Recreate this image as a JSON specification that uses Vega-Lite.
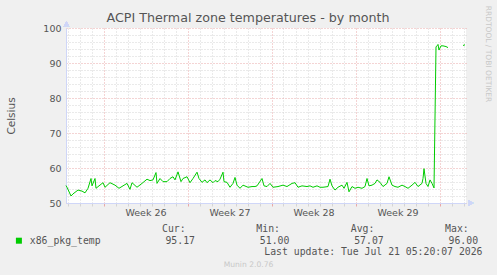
{
  "$schema": "https://vega.github.io/schema/vega-lite/v6.json",
  "width": 400,
  "height": 175,
  "autosize": {"type": "none"},
  "padding": {"left": 66, "top": 28, "right": 31, "bottom": 72},
  "background": "#f0f0f0",
  "config": {"view": {"fill": "#ffffff", "stroke": null}},
  "title": {"text": "ACPI Thermal zone temperatures - by month", "font": "DejaVu Sans", "fontSize": 12.7, "fontWeight": "normal", "color": "#555555", "anchor": "middle", "dx": -18, "offset": -19},
  "data": {"values": [
    {"time": "2026-06-18T21:00:00Z", "temp": 55.0},
    {"time": "2026-06-18T23:00:00Z", "temp": 54.5},
    {"time": "2026-06-19T07:00:00Z", "temp": 52.0},
    {"time": "2026-06-19T11:00:00Z", "temp": 52.6},
    {"time": "2026-06-19T21:00:00Z", "temp": 53.7},
    {"time": "2026-06-20T05:00:00Z", "temp": 53.4},
    {"time": "2026-06-20T11:00:00Z", "temp": 52.9},
    {"time": "2026-06-20T17:00:00Z", "temp": 54.2},
    {"time": "2026-06-20T23:00:00Z", "temp": 57.0},
    {"time": "2026-06-21T01:00:00Z", "temp": 54.9},
    {"time": "2026-06-21T07:00:00Z", "temp": 57.0},
    {"time": "2026-06-21T09:00:00Z", "temp": 54.2},
    {"time": "2026-06-21T15:00:00Z", "temp": 54.9},
    {"time": "2026-06-21T23:00:00Z", "temp": 55.8},
    {"time": "2026-06-22T03:00:00Z", "temp": 54.5},
    {"time": "2026-06-22T13:00:00Z", "temp": 55.8},
    {"time": "2026-06-22T23:00:00Z", "temp": 55.1},
    {"time": "2026-06-23T07:00:00Z", "temp": 54.2},
    {"time": "2026-06-23T15:00:00Z", "temp": 54.9},
    {"time": "2026-06-23T23:00:00Z", "temp": 55.6},
    {"time": "2026-06-24T05:00:00Z", "temp": 53.9},
    {"time": "2026-06-24T09:00:00Z", "temp": 55.8},
    {"time": "2026-06-24T19:00:00Z", "temp": 54.5},
    {"time": "2026-06-25T05:00:00Z", "temp": 55.6},
    {"time": "2026-06-25T15:00:00Z", "temp": 56.8},
    {"time": "2026-06-25T21:00:00Z", "temp": 56.4},
    {"time": "2026-06-26T03:00:00Z", "temp": 56.6},
    {"time": "2026-06-26T09:00:00Z", "temp": 58.7},
    {"time": "2026-06-26T11:00:00Z", "temp": 55.6},
    {"time": "2026-06-26T17:00:00Z", "temp": 57.0},
    {"time": "2026-06-26T23:00:00Z", "temp": 56.1},
    {"time": "2026-06-27T07:00:00Z", "temp": 56.1},
    {"time": "2026-06-27T13:00:00Z", "temp": 57.0},
    {"time": "2026-06-27T19:00:00Z", "temp": 57.5},
    {"time": "2026-06-27T23:00:00Z", "temp": 56.6},
    {"time": "2026-06-28T05:00:00Z", "temp": 58.9},
    {"time": "2026-06-28T11:00:00Z", "temp": 56.1},
    {"time": "2026-06-28T15:00:00Z", "temp": 57.0},
    {"time": "2026-06-28T23:00:00Z", "temp": 57.5},
    {"time": "2026-06-29T05:00:00Z", "temp": 55.8},
    {"time": "2026-06-29T11:00:00Z", "temp": 57.0},
    {"time": "2026-06-29T19:00:00Z", "temp": 58.8},
    {"time": "2026-06-29T23:00:00Z", "temp": 57.0},
    {"time": "2026-06-30T05:00:00Z", "temp": 55.9},
    {"time": "2026-06-30T11:00:00Z", "temp": 56.6},
    {"time": "2026-06-30T15:00:00Z", "temp": 55.8},
    {"time": "2026-06-30T21:00:00Z", "temp": 56.6},
    {"time": "2026-07-01T03:00:00Z", "temp": 55.8},
    {"time": "2026-07-01T07:00:00Z", "temp": 56.4},
    {"time": "2026-07-01T13:00:00Z", "temp": 56.1},
    {"time": "2026-07-01T17:00:00Z", "temp": 56.8},
    {"time": "2026-07-01T23:00:00Z", "temp": 58.8},
    {"time": "2026-07-02T01:00:00Z", "temp": 56.1},
    {"time": "2026-07-02T07:00:00Z", "temp": 55.9},
    {"time": "2026-07-02T13:00:00Z", "temp": 54.5},
    {"time": "2026-07-02T19:00:00Z", "temp": 55.6},
    {"time": "2026-07-02T23:00:00Z", "temp": 57.3},
    {"time": "2026-07-03T03:00:00Z", "temp": 55.1},
    {"time": "2026-07-03T09:00:00Z", "temp": 54.2},
    {"time": "2026-07-03T15:00:00Z", "temp": 55.1},
    {"time": "2026-07-04T01:00:00Z", "temp": 54.5},
    {"time": "2026-07-04T09:00:00Z", "temp": 54.7},
    {"time": "2026-07-04T15:00:00Z", "temp": 54.7},
    {"time": "2026-07-04T19:00:00Z", "temp": 54.9},
    {"time": "2026-07-05T05:00:00Z", "temp": 57.0},
    {"time": "2026-07-05T09:00:00Z", "temp": 54.9},
    {"time": "2026-07-05T15:00:00Z", "temp": 54.7},
    {"time": "2026-07-05T21:00:00Z", "temp": 55.6},
    {"time": "2026-07-06T03:00:00Z", "temp": 54.5},
    {"time": "2026-07-06T13:00:00Z", "temp": 54.7},
    {"time": "2026-07-06T23:00:00Z", "temp": 55.1},
    {"time": "2026-07-07T07:00:00Z", "temp": 54.7},
    {"time": "2026-07-07T17:00:00Z", "temp": 55.6},
    {"time": "2026-07-07T23:00:00Z", "temp": 55.8},
    {"time": "2026-07-08T05:00:00Z", "temp": 54.5},
    {"time": "2026-07-08T13:00:00Z", "temp": 54.9},
    {"time": "2026-07-08T23:00:00Z", "temp": 54.7},
    {"time": "2026-07-09T05:00:00Z", "temp": 54.9},
    {"time": "2026-07-09T11:00:00Z", "temp": 54.5},
    {"time": "2026-07-09T19:00:00Z", "temp": 54.9},
    {"time": "2026-07-10T01:00:00Z", "temp": 54.5},
    {"time": "2026-07-10T07:00:00Z", "temp": 54.5},
    {"time": "2026-07-10T17:00:00Z", "temp": 54.7},
    {"time": "2026-07-10T21:00:00Z", "temp": 56.8},
    {"time": "2026-07-11T01:00:00Z", "temp": 54.9},
    {"time": "2026-07-11T07:00:00Z", "temp": 53.7},
    {"time": "2026-07-11T13:00:00Z", "temp": 54.5},
    {"time": "2026-07-11T21:00:00Z", "temp": 55.1},
    {"time": "2026-07-12T01:00:00Z", "temp": 54.2},
    {"time": "2026-07-12T07:00:00Z", "temp": 55.9},
    {"time": "2026-07-12T11:00:00Z", "temp": 53.2},
    {"time": "2026-07-12T17:00:00Z", "temp": 54.7},
    {"time": "2026-07-12T23:00:00Z", "temp": 54.2},
    {"time": "2026-07-13T05:00:00Z", "temp": 54.5},
    {"time": "2026-07-13T13:00:00Z", "temp": 54.2},
    {"time": "2026-07-13T19:00:00Z", "temp": 54.7},
    {"time": "2026-07-13T23:00:00Z", "temp": 57.0},
    {"time": "2026-07-14T03:00:00Z", "temp": 54.9},
    {"time": "2026-07-14T09:00:00Z", "temp": 55.1},
    {"time": "2026-07-14T15:00:00Z", "temp": 55.6},
    {"time": "2026-07-14T19:00:00Z", "temp": 56.6},
    {"time": "2026-07-15T01:00:00Z", "temp": 55.9},
    {"time": "2026-07-15T07:00:00Z", "temp": 54.7},
    {"time": "2026-07-15T15:00:00Z", "temp": 55.6},
    {"time": "2026-07-15T19:00:00Z", "temp": 57.5},
    {"time": "2026-07-16T01:00:00Z", "temp": 55.1},
    {"time": "2026-07-16T07:00:00Z", "temp": 54.7},
    {"time": "2026-07-16T13:00:00Z", "temp": 54.5},
    {"time": "2026-07-16T21:00:00Z", "temp": 55.1},
    {"time": "2026-07-17T03:00:00Z", "temp": 54.7},
    {"time": "2026-07-17T09:00:00Z", "temp": 54.2},
    {"time": "2026-07-17T17:00:00Z", "temp": 55.1},
    {"time": "2026-07-17T23:00:00Z", "temp": 55.9},
    {"time": "2026-07-18T05:00:00Z", "temp": 54.7},
    {"time": "2026-07-18T13:00:00Z", "temp": 55.6},
    {"time": "2026-07-18T15:00:00Z", "temp": 57.0},
    {"time": "2026-07-18T17:00:00Z", "temp": 59.8},
    {"time": "2026-07-18T21:00:00Z", "temp": 55.6},
    {"time": "2026-07-19T01:00:00Z", "temp": 54.7},
    {"time": "2026-07-19T05:00:00Z", "temp": 56.6},
    {"time": "2026-07-19T09:00:00Z", "temp": 55.6},
    {"time": "2026-07-19T13:00:00Z", "temp": 54.3},
    {"time": "2026-07-19T17:00:00Z", "temp": 94.6},
    {"time": "2026-07-19T19:00:00Z", "temp": 94.9},
    {"time": "2026-07-19T21:00:00Z", "temp": 95.3},
    {"time": "2026-07-19T23:00:00Z", "temp": 93.7},
    {"time": "2026-07-20T03:00:00Z", "temp": 94.9},
    {"time": "2026-07-20T07:00:00Z", "temp": 94.9},
    {"time": "2026-07-20T13:00:00Z", "temp": 94.7},
    {"time": "2026-07-20T17:00:00Z", "temp": 94.4},
    {"time": "2026-07-20T19:00:00Z", "temp": null},
    {"time": "2026-07-21T23:00:00Z", "temp": 95.0},
    {"time": "2026-07-22T03:00:00Z", "temp": 95.2}
  ]},
  "layer": [
    {
      "mark": {"type": "line", "strokeWidth": 1, "invalid": "break-paths-show-domains"},
      "encoding": {
        "x": {
          "field": "time", "type": "temporal",
          "scale": {"type": "utc", "nice": false, "domain": [{"year": 2026, "month": 6, "date": 18, "hours": 21, "utc": true}, {"year": 2026, "month": 7, "date": 22, "hours": 5, "utc": true}]},
          "axis": {
            "orient": "bottom",
            "tickCount": {"interval": "day", "step": 1},
            "grid": true,
            "gridColor": {"condition": {"test": "utcday(datum.value) === 1", "value": "#e8a8a8"}, "value": "#d4d4d4"},
            "gridDash": [1, 2],
            "ticks": true,
            "tickSize": 3,
            "tickColor": {"condition": {"test": "utcday(datum.value) === 1", "value": "#e8a8a8"}, "value": "#d4d4d4"},
            "domain": true,
            "domainColor": "#cfd6f8",
            "labelExpr": "utcday(datum.value) === 4 ? 'Week ' + utcFormat(datum.value, '%V') : ''",
            "labelOffset": 6,
            "labelPadding": 1,
            "labelFont": "DejaVu Sans",
            "labelFontSize": 9.5,
            "labelColor": "#555555",
            "labelOverlap": false,
            "labelFlush": false,
            "labelBound": false,
            "title": "Last update: Tue Jul 21 05:20:07 2026",
            "titleFont": "DejaVu Sans Mono",
            "titleFontSize": 9.8,
            "titleFontWeight": "normal",
            "titleColor": "#555555",
            "titleAlign": "right",
            "titleBaseline": "alphabetic",
            "titleX": 416,
            "titleY": 51
          }
        },
        "y": {
          "field": "temp", "type": "quantitative",
          "scale": {"domain": [50, 100], "nice": false, "zero": false},
          "axis": {
            "orient": "left",
            "values": [50, 52, 54, 56, 58, 60, 62, 64, 66, 68, 70, 72, 74, 76, 78, 80, 82, 84, 86, 88, 90, 92, 94, 96, 98, 100],
            "grid": true,
            "gridColor": {"condition": {"test": "datum.value % 10 === 0", "value": "#e8a8a8"}, "value": "#d4d4d4"},
            "gridDash": [1, 2],
            "ticks": false,
            "domain": true,
            "domainColor": "#cfd6f8",
            "labelExpr": "datum.value % 10 === 0 ? datum.label : ''",
            "labelFont": "DejaVu Sans",
            "labelFontSize": 9.5,
            "labelColor": "#555555",
            "labelPadding": 5,
            "labelOverlap": false,
            "title": "Celsius",
            "titleFont": "DejaVu Sans",
            "titleFontSize": 10.5,
            "titleFontWeight": "normal",
            "titleColor": "#555555",
            "titleAngle": -90,
            "titleBaseline": "middle",
            "titleAlign": "center",
            "titleX": -55,
            "titleY": 87.5
          }
        },
        "color": {
          "datum": "x86_pkg_temp",
          "scale": {"range": ["#00cc00"]},
          "legend": {
            "orient": "none",
            "legendX": -52,
            "legendY": 196,
            "padding": 0,
            "title": "Cur:\u00a0\u00a0\u00a0\u00a0\u00a0\u00a0\u00a0\u00a0\u00a0\u00a0\u00a0\u00a0Min:\u00a0\u00a0\u00a0\u00a0\u00a0\u00a0\u00a0\u00a0\u00a0\u00a0\u00a0\u00a0Avg:\u00a0\u00a0\u00a0\u00a0\u00a0\u00a0\u00a0\u00a0\u00a0\u00a0\u00a0\u00a0Max:",
            "titleFont": "DejaVu Sans Mono",
            "titleFontSize": 9.8,
            "titleFontWeight": "normal",
            "titleColor": "#555555",
            "titleLimit": 1000,
            "titlePadding": 2,
            "labelExpr": "datum.label + '\u00a0\u00a0\u00a0\u00a0\u00a0\u00a0\u00a0\u00a0\u00a0\u00a0\u00a095.17\u00a0\u00a0\u00a0\u00a0\u00a0\u00a0\u00a0\u00a0\u00a0\u00a0\u00a051.00\u00a0\u00a0\u00a0\u00a0\u00a0\u00a0\u00a0\u00a0\u00a0\u00a0\u00a057.07\u00a0\u00a0\u00a0\u00a0\u00a0\u00a0\u00a0\u00a0\u00a0\u00a0\u00a096.00'",
            "labelFont": "DejaVu Sans Mono",
            "labelFontSize": 9.8,
            "labelColor": "#555555",
            "labelLimit": 1000,
            "labelOffset": 6,
            "symbolType": "square",
            "symbolSize": 36,
            "encode": {
              "title": {"update": {"dx": {"value": 148}}},
              "symbols": {"update": {"fill": {"value": "#00cc00"}, "stroke": {"value": "transparent"}, "strokeWidth": {"value": 0}, "shape": {"value": "square"}, "size": {"value": 36}}}
            }
          }
        }
      }
    },
    {
      "mark": {"type": "point", "shape": "triangle-up", "filled": true, "color": "#cfd6f8", "opacity": 1, "size": 30},
      "encoding": {
        "x": {
          "datum": {"year": 2026, "month": 6, "date": 18, "hours": 22, "utc": true}, "type": "temporal",
          "scale": {"type": "utc", "nice": false, "domain": [{"year": 2026, "month": 6, "date": 18, "hours": 21, "utc": true}, {"year": 2026, "month": 7, "date": 22, "hours": 5, "utc": true}]},
          "axis": {"orient": "top", "domain": false, "ticks": false, "labels": false, "grid": false, "title": "Munin 2.0.76", "titleFont": "DejaVu Sans", "titleFontSize": 7.6, "titleFontWeight": "normal", "titleColor": "#c8c8c8", "titleX": 182, "titleY": 236, "titleAlign": "center", "titleBaseline": "middle"}
        },
        "y": {
          "datum": 101.2, "type": "quantitative",
          "scale": {"domain": [50, 100], "nice": false, "zero": false},
          "axis": {"orient": "right", "domain": false, "ticks": false, "labels": false, "grid": false, "title": "RRDTOOL / TOBI OETIKER", "titleFont": "DejaVu Sans", "titleFontSize": 7.5, "titleFontWeight": "normal", "titleColor": "#c8c8c8", "titleAngle": 90, "titleX": 21, "titleY": 25.5, "titleAlign": "center", "titleBaseline": "middle"}
        }
      }
    },
    {
      "mark": {"type": "point", "shape": "triangle-right", "filled": true, "color": "#cfd6f8", "opacity": 1, "size": 30},
      "encoding": {
        "x": {
          "datum": {"year": 2026, "month": 7, "date": 22, "hours": 15, "utc": true}, "type": "temporal",
          "scale": {"type": "utc", "nice": false, "domain": [{"year": 2026, "month": 6, "date": 18, "hours": 21, "utc": true}, {"year": 2026, "month": 7, "date": 22, "hours": 5, "utc": true}]},
          "axis": null
        },
        "y": {
          "datum": 50, "type": "quantitative",
          "scale": {"domain": [50, 100], "nice": false, "zero": false},
          "axis": null
        }
      }
    }
  ],
  "resolve": {"axis": {"x": "independent", "y": "independent"}}
}
